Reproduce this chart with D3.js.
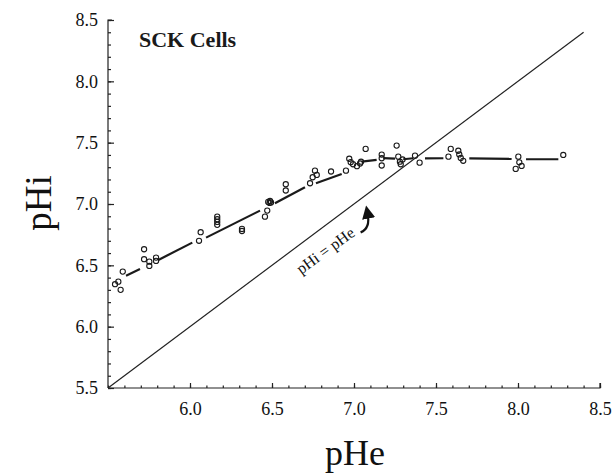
<!DOCTYPE html>
<html>
<head>
<meta charset="utf-8">
<script src="https://cdn.jsdelivr.net/npm/d3@7"></script>
<style>
  body { margin: 0; background: #fff; }
  svg { display: block; font-family: "Liberation Serif", "Times New Roman", serif; }
</style>
</head>
<body>
<div class="graphContainer"></div>
<script>
// points (pHe, pHi)
let pHe = [5.543, 5.563, 5.577, 5.59,
    5.72, 5.72, 5.752, 5.752, 5.793, 5.793,
    6.055, 6.065,
    6.166, 6.166, 6.166, 6.166,
    6.317, 6.317,
    6.457, 6.471, 6.477, 6.485, 6.494, 6.488,
    6.584, 6.584,
    6.732, 6.748, 6.762, 6.773, 6.86, 6.951,
    6.971, 6.98, 6.994, 7.018, 7.037, 7.043, 7.071,
    7.169, 7.169, 7.169,
    7.26, 7.27, 7.28, 7.285, 7.296, 7.372, 7.40,
    7.576, 7.59,
    7.636, 7.642, 7.651, 7.666,
    8.002, 8.008, 8.022, 7.986, 8.276];
let pHi = [6.346, 6.367, 6.30, 6.449,
    6.631, 6.55, 6.53, 6.495, 6.563, 6.536,
    6.70, 6.77,
    6.897, 6.876, 6.854, 6.83,
    6.797, 6.78,
    6.897, 6.946, 7.017, 7.009, 7.013, 7.025,
    7.161, 7.11,
    7.169, 7.218, 7.272, 7.237, 7.265, 7.272,
    7.369, 7.341, 7.324, 7.308, 7.33, 7.345, 7.449,
    7.403, 7.373, 7.314,
    7.476, 7.386, 7.345, 7.324, 7.363, 7.394, 7.337,
    7.386, 7.449,
    7.434, 7.404, 7.375, 7.352,
    7.386, 7.34, 7.31, 7.286, 7.40];

// broken fitted line: x1, y1, x2, y2
let fitSegments = [
    [5.61, 6.416, 5.695, 6.47],
    [5.807, 6.544, 6.014, 6.685],
    [6.098, 6.726, 6.427, 6.946],
    [6.518, 7.006, 6.701, 7.136],
    [6.768, 7.169, 6.925, 7.245],
    [7.047, 7.345, 7.138, 7.359],
    [7.178, 7.374, 7.25, 7.37],
    [7.30, 7.365, 7.361, 7.373],
    [7.433, 7.372, 7.545, 7.373],
    [7.703, 7.372, 7.961, 7.368],
    [8.049, 7.365, 8.246, 7.365]
];

let identityLine = [5.5, 8.4];
let xTicks = [6.0, 6.5, 7.0, 7.5, 8.0, 8.5];
let yTicks = [5.5, 6.0, 6.5, 7.0, 7.5, 8.0, 8.5];
let minorTicks = d3.range(55, 86).map(d => d / 10);

let width = 612,
    height = 476;
let margin = {left: 108, top: 20, right: 12, bottom: 88};

let svg = d3.select(".graphContainer")
    .append("svg")
    .attr("width", width)
    .attr("height", height);

let x = d3.scaleLinear().domain([5.5, 8.5]).range([margin.left, width - margin.right]);
let y = d3.scaleLinear().domain([5.5, 8.5]).range([height - margin.bottom, margin.top]);

// minor ticks
svg.append("g")
    .attr("transform", "translate(0," + y(5.5) + ")")
    .call(d3.axisBottom(x).tickValues(minorTicks).tickSize(-2.5).tickFormat(""))
    .call(g => g.select(".domain").remove());
svg.append("g")
    .attr("transform", "translate(" + x(5.5) + ",0)")
    .call(d3.axisLeft(y).tickValues(minorTicks).tickSize(-3).tickFormat(""))
    .call(g => g.select(".domain").remove());

// major ticks + labels
let xAxis = svg.append("g")
    .attr("transform", "translate(0," + y(5.5) + ")")
    .call(d3.axisBottom(x).tickValues(xTicks).tickSize(-5).tickPadding(14).tickFormat(d3.format(".1f")));
let yAxis = svg.append("g")
    .attr("transform", "translate(" + x(5.5) + ",0)")
    .call(d3.axisLeft(y).tickValues(yTicks).tickSize(-6).tickPadding(10).tickFormat(d3.format(".1f")));

svg.selectAll("g").attr("font-family", null);
svg.selectAll(".tick text")
    .style("font-family", "'Liberation Serif', serif")
    .attr("font-size", 18)
    .attr("fill", "#111");
svg.selectAll(".domain, .tick line")
    .attr("stroke", "#222")
    .attr("stroke-width", 1.2);
xAxis.select(".domain").attr("d", "M" + x(5.5) + ",0H" + x(8.5) + "V-5");
yAxis.select(".domain").attr("d", "M0," + y(5.5) + "V" + y(8.5) + "H4");

// pHi = pHe line
svg.append("line")
    .attr("x1", x(identityLine[0]))
    .attr("y1", y(identityLine[0]))
    .attr("x2", x(identityLine[1]))
    .attr("y2", y(identityLine[1]))
    .attr("stroke", "#222")
    .attr("stroke-width", 1.2);

svg.append("g")
    .selectAll("line")
    .data(fitSegments)
    .join("line")
    .attr("x1", d => x(d[0]))
    .attr("y1", d => y(d[1]))
    .attr("x2", d => x(d[2]))
    .attr("y2", d => y(d[3]))
    .attr("stroke", "#1a1a1a")
    .attr("stroke-width", 2.2);

svg.append("g")
    .selectAll("circle")
    .data(pHe)
    .join("circle")
    .attr("cx", d => x(d))
    .attr("cy", (d, i) => y(pHi[i]))
    .attr("r", 2.6)
    .attr("fill", "none")
    .attr("stroke", "#1a1a1a")
    .attr("stroke-width", 1.1);

// labels
svg.append("text")
    .attr("x", 139)
    .attr("y", 47)
    .attr("font-size", 22)
    .attr("font-weight", "bold")
    .attr("fill", "#1a1a1a")
    .text("SCK Cells");

svg.append("text")
    .attr("x", 355)
    .attr("y", 465)
    .attr("text-anchor", "middle")
    .attr("font-size", 36)
    .attr("fill", "#111")
    .text("pHe");

svg.append("text")
    .attr("transform", "translate(51,203) rotate(-90)")
    .attr("text-anchor", "middle")
    .attr("font-size", 37)
    .attr("fill", "#111")
    .text("pHi");

// annotation
svg.append("text")
    .attr("transform", "translate(" + x(6.845) + "," + y(6.585) + ") rotate(-36)")
    .attr("text-anchor", "middle")
    .attr("font-size", 16)
    .attr("fill", "#111")
    .text("pHi = pHe");

svg.append("defs").append("marker")
    .attr("id", "head")
    .attr("viewBox", "0 0 10 10")
    .attr("refX", 4).attr("refY", 5)
    .attr("markerWidth", 6).attr("markerHeight", 6)
    .attr("orient", "auto")
    .append("path")
    .attr("d", "M0,0L10,5L0,10z")
    .attr("fill", "#111");

let ax = x(7.083), ay = y(6.94);
svg.append("path")
    .attr("d", "M" + (ax - 7) + "," + (ay + 21) + "Q" + (ax + 3) + "," + (ay + 17) + " " + ax + "," + (ay + 2))
    .attr("fill", "none")
    .attr("stroke", "#111")
    .attr("stroke-width", 2.2)
    .attr("marker-end", "url(#head)");
</script>
</body>
</html>
